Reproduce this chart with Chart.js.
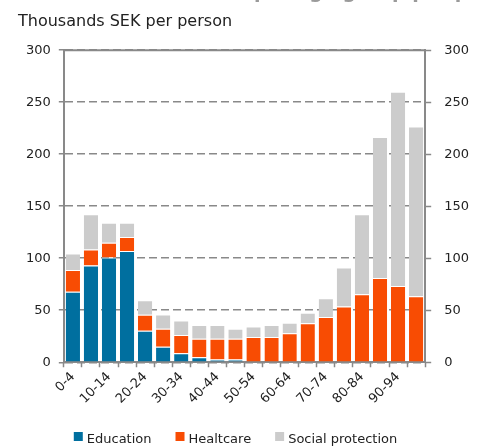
<!DOCTYPE html>
<html>
<head>
<meta charset="utf-8">
<script src="https://cdn.jsdelivr.net/npm/chart.js@4.4.0/dist/chart.umd.min.js"></script>
<style>
    html, body { margin: 0; padding: 0; background: #fff; }
</style>
</head>
<body>
<canvas id="myChart" width="491" height="446"></canvas>
<script>
const ctx = document.getElementById('myChart');

// Age groups (five-year bands)
const ageGroups = ['0-4', '5-9', '10-14', '15-19', '20-24', '25-29', '30-34', '35-39', '40-44', '45-49',
    '50-54', '55-59', '60-64', '65-69', '70-74', '75-79', '80-84', '85-89', '90-94', '95+'];

// Thousands SEK per person
const education = [67.7, 93.1, 100.8, 106.9, 30.2, 14.8, 8.7, 4.8, 2.6, 2.6,
    0, 0, 0, 0, 0, 0, 0, 0, 0, 0];
const healthcare = [20.9, 15.4, 14.1, 13.4, 15.4, 17.3, 17.6, 17.7, 19.9, 19.9,
    24.4, 24.4, 27.9, 37.5, 43.6, 53.6, 65.5, 80.9, 73.2, 63.5];
const socialProtection = [16.0, 33.7, 19.2, 13.8, 14.1, 13.8, 13.8, 13.4, 13.4, 9.6,
    9.9, 11.5, 10.0, 10.0, 18.0, 37.5, 76.7, 135.7, 186.8, 163.1];

const seriesNames = ['Education', 'Healtcare', 'Social protection'];
const seriesColors = ['#006f9f', '#f84c03', '#cccccc'];

const FONT = 'DejaVu Sans';
const AXIS_GREY = '#898989';

// top border line, clipped heading and legend are drawn by hand
const extras = {
    id: 'extras',
    afterDraw(chart) {
        const c = chart.ctx;
        const area = chart.chartArea;
        c.save();

        c.strokeStyle = AXIS_GREY;
        c.lineWidth = 2;
        c.beginPath();
        c.moveTo(area.left, area.top);
        c.lineTo(area.right, area.top);
        c.stroke();

        c.fillStyle = '#9a9a9a';
        c.font = 'bold 19px "' + FONT + '"';
        c.textBaseline = 'alphabetic';
        c.fillText('Public sector services per age group per person', 14, -2);

        // legend
        c.font = '13px "' + FONT + '"';
        const box = 9, boxGap = 4, itemGap = 24;
        const widths = seriesNames.map(n => c.measureText(n).width);
        let total = widths.reduce((a, b) => a + b, 0) + seriesNames.length * (box + boxGap) + itemGap * (seriesNames.length - 1);
        let x = chart.width / 2 - 10 - total / 2;
        const baseY = chart.height - 3;
        for (let i = 0; i < seriesNames.length; i++) {
            c.fillStyle = seriesColors[i];
            c.fillRect(x, baseY - 11, box, box);
            x += box + boxGap;
            c.fillStyle = '#222';
            c.fillText(seriesNames[i], x, baseY);
            x += widths[i] + itemGap;
        }
        c.restore();
    }
};

const tickFont = {family: FONT, size: 13};

window.myChart = new Chart(ctx, {
    type: 'bar',
    data: {
        labels: ageGroups,
        datasets: [
            {
                label: seriesNames[0],
                data: education,
                backgroundColor: seriesColors[0],
                borderColor: '#ffffff',
                borderWidth: {top: 1, left: 0, right: 0, bottom: 0}
            },
            {
                label: seriesNames[1],
                data: healthcare,
                backgroundColor: seriesColors[1],
                borderColor: '#ffffff',
                borderWidth: {top: 1, left: 0, right: 0, bottom: 0}
            },
            {
                label: seriesNames[2],
                data: socialProtection,
                backgroundColor: seriesColors[2],
                borderColor: '#ffffff',
                borderWidth: {top: 1, left: 0, right: 0, bottom: 0}
            }
        ]
    },
    options: {
        responsive: false,
        animation: false,
        devicePixelRatio: 1,
        layout: {padding: {left: 18, right: 9, top: 0, bottom: 37}},
        datasets: {
            bar: {categoryPercentage: 1, barPercentage: 0.79}
        },
        plugins: {
            legend: {display: false},
            tooltip: {enabled: false},
            title: {
                display: true,
                text: 'Thousands SEK per person',
                align: 'start',
                color: '#222',
                font: {family: FONT, size: 16, weight: 'normal'},
                padding: {top: 12, bottom: 19}
            }
        },
        scales: {
            x: {
                stacked: true,
                offset: true,
                grid: {
                    offset: true,
                    drawOnChartArea: false,
                    drawTicks: true,
                    tickLength: 5,
                    tickColor: AXIS_GREY,
                    tickWidth: 1.5
                },
                border: {color: AXIS_GREY, width: 2},
                ticks: {
                    autoSkip: false,
                    minRotation: 45,
                    maxRotation: 45,
                    padding: 2,
                    color: '#222',
                    font: tickFont,
                    callback: function (value, index) {
                        return index % 2 === 0 ? this.getLabelForValue(value) : '';
                    }
                }
            },
            y: {
                stacked: true,
                position: 'left',
                min: 0,
                max: 300,
                ticks: {stepSize: 50, padding: 8, color: '#222', font: tickFont},
                grid: {
                    color: AXIS_GREY,
                    lineWidth: 1.5,
                    tickLength: 5,
                    tickColor: AXIS_GREY,
                    tickWidth: 1.5
                },
                border: {color: AXIS_GREY, width: 2, dash: [8, 4]}
            },
            y2: {
                position: 'right',
                min: 0,
                max: 300,
                ticks: {stepSize: 50, padding: 13, color: '#222', font: tickFont},
                grid: {
                    drawOnChartArea: false,
                    tickLength: 6,
                    tickColor: AXIS_GREY,
                    tickWidth: 1.5
                },
                border: {color: AXIS_GREY, width: 2}
            }
        }
    },
    plugins: [extras]
});
</script>
</body>
</html>
